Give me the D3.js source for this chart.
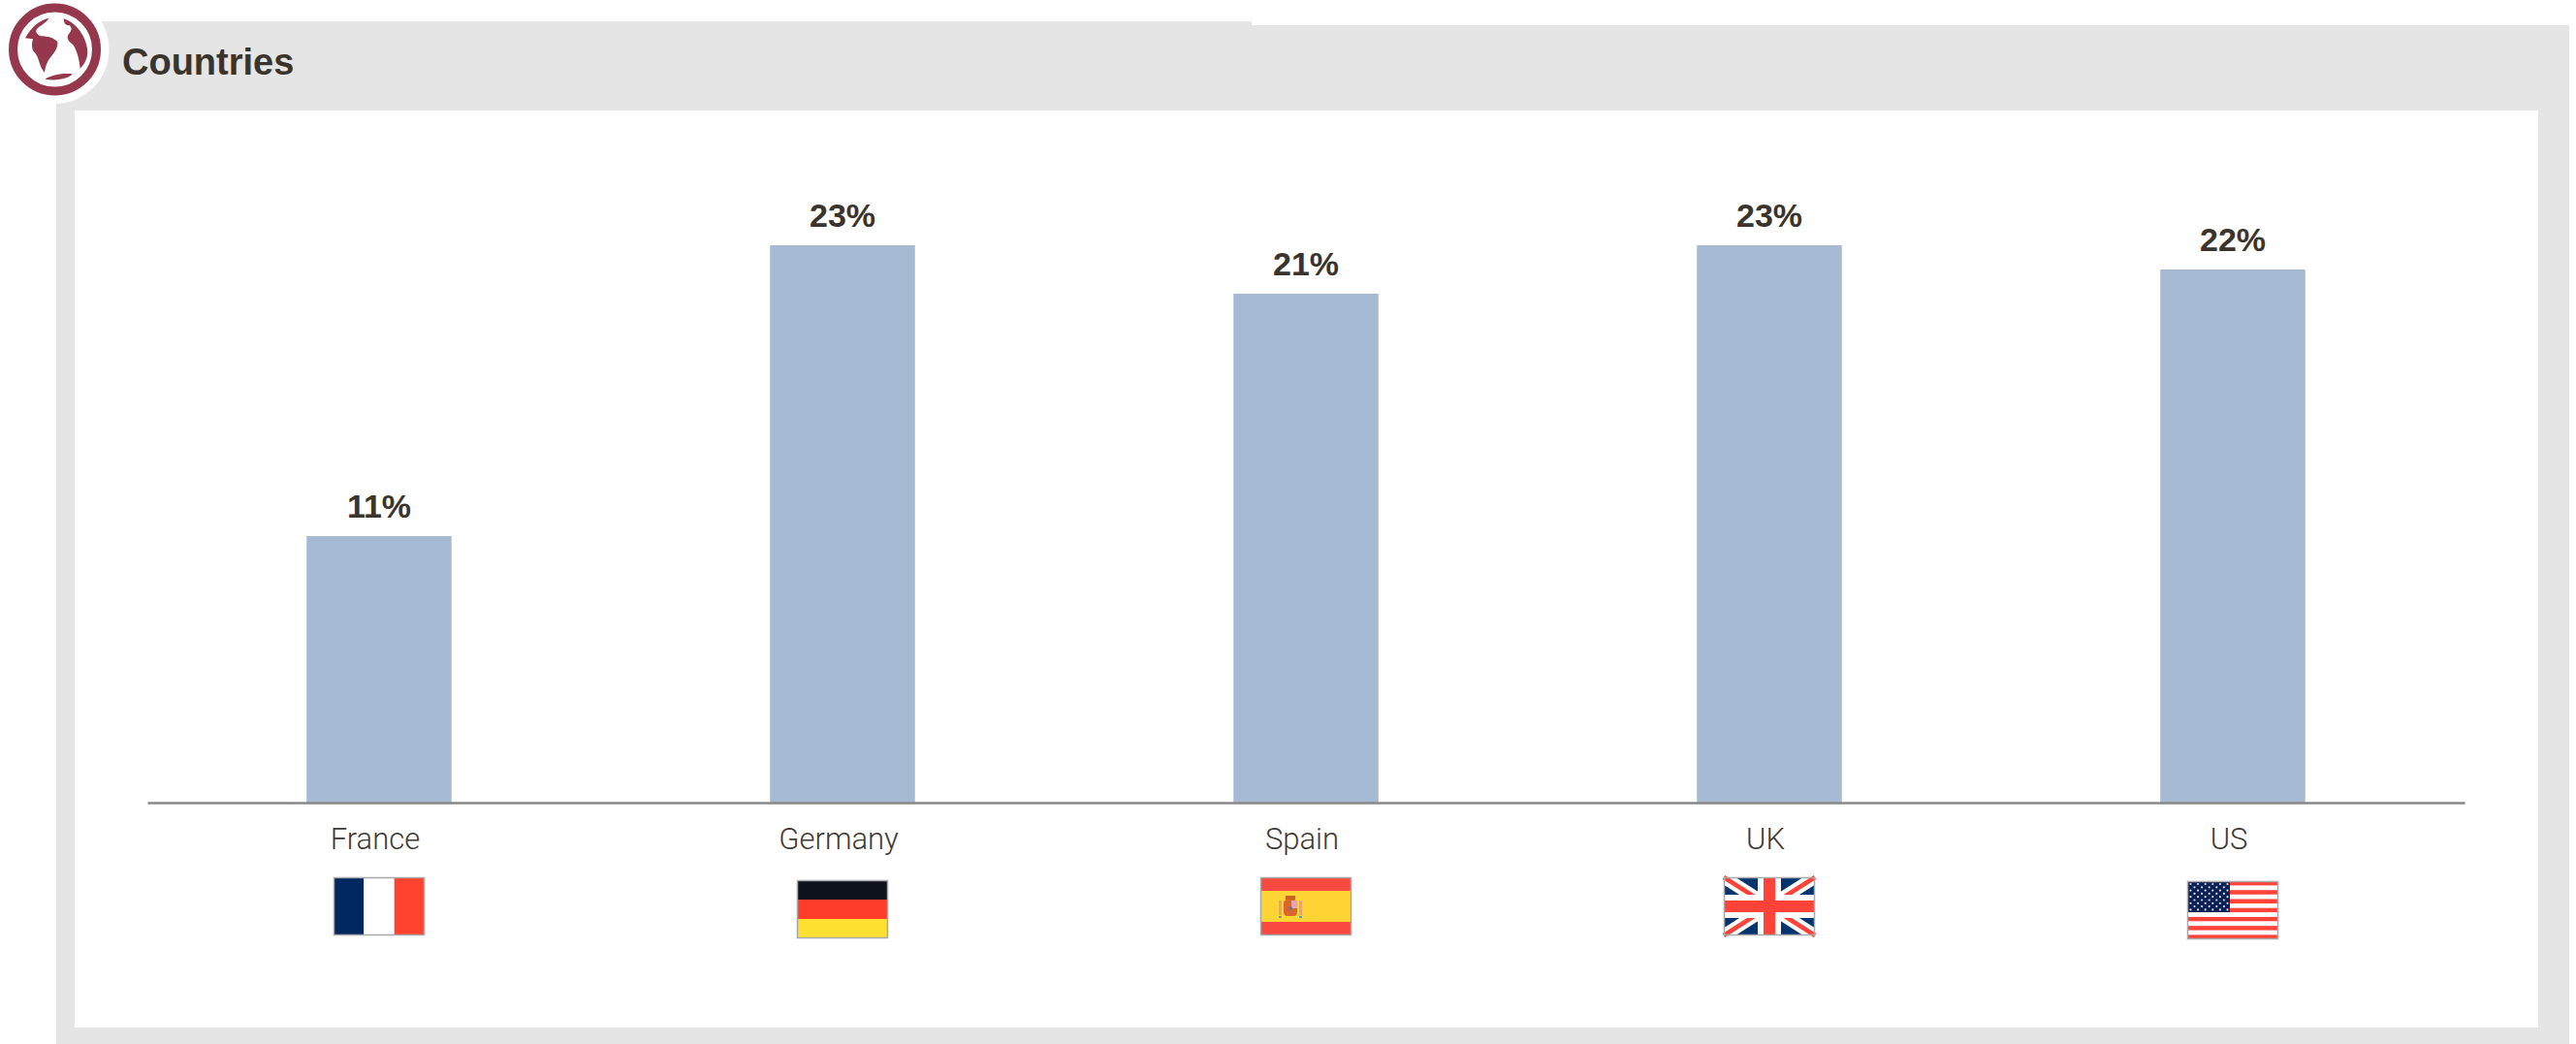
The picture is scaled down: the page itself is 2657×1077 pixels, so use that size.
<!DOCTYPE html>
<html>
<head>
<meta charset="utf-8">
<title>Countries</title>
<script src="https://cdn.jsdelivr.net/npm/d3@7/dist/d3.min.js"></script>
<style>
  html, body { margin: 0; padding: 0; background: #fff; }
  svg { display: block; }
  .title { font: bold 38px "Liberation Sans", sans-serif; fill: #3b342c; }
  .value { font: bold 34px "Liberation Sans", sans-serif; fill: #3b342c; text-anchor: middle; }
  .tick text { font: 300 31px Roboto, "Liberation Sans", sans-serif; fill: #3f3a34; }
</style>
</head>
<body>
<svg id="chart" width="2657" height="1077"></svg>
<script>
const countries = ["France", "Germany", "Spain", "UK", "US"];
const shares = [11, 23, 21, 23, 22];
const chartTitle = "Countries";

const svg = d3.select("#chart");
const GREY = "#e5e5e5", WINE = "#95374d", BAR = "#a6bbd3";

// Panel frame: the header strip sits slightly higher on its left half.
svg.append("rect").attr("x", 58).attr("y", 26).attr("width", 2592).attr("height", 1051).attr("fill", GREY);
svg.append("rect").attr("x", 58).attr("y", 22).attr("width", 1233).attr("height", 10).attr("fill", GREY);
svg.append("rect").attr("x", 77).attr("y", 114).attr("width", 2541).attr("height", 946).attr("fill", "#fff");

// Globe badge
const badge = svg.append("g").attr("transform", "translate(56.5,51)");
badge.append("circle").attr("r", 56).attr("fill", "#fff");
badge.append("circle").attr("r", 43).attr("fill", "none").attr("stroke", WINE).attr("stroke-width", 9);
badge.append("path")
  .attr("transform", "translate(-56.5,-51) scale(0.3333)")
  .attr("fill", WINE)
  .attr("d", "M152,56 C122,62 96,84 78,118 L102,121 C98,134 98,146 102,156 C112,166 118,178 122,194 C126,208 132,218 138,224 C140,206 146,190 156,178 C168,164 180,148 178,130 C168,118 150,112 126,112 C114,106 108,98 114,90 C124,78 142,72 152,56 Z " +
             "M197,58 C232,68 264,108 270,150 C274,176 264,196 248,212 C246,190 240,160 226,138 C214,130 204,120 212,106 C222,96 224,86 214,78 C204,80 197,72 197,58 Z " +
             "M140,245 C158,232 196,226 224,229 C216,242 176,252 140,245 Z");

svg.append("text").attr("class", "title").attr("x", 126).attr("y", 76.5).text(chartTitle);

// Scales
const x = d3.scaleBand().domain(countries).range([152, 2542]);
const y = d3.scaleLinear().domain([0, 25]).range([828, 203]);
const barWidth = 149.5;
const center = d => x(d) + x.bandwidth() / 2;

svg.selectAll("rect.bar")
  .data(countries)
  .join("rect")
  .attr("class", "bar")
  .attr("x", d => center(d) - barWidth / 2)
  .attr("width", barWidth)
  .attr("y", (d, i) => y(shares[i]))
  .attr("height", (d, i) => y(0) - y(shares[i]))
  .attr("fill", BAR);

svg.selectAll("text.value")
  .data(countries)
  .join("text")
  .attr("class", "value")
  .attr("x", center)
  .attr("y", (d, i) => y(shares[i]) - 19.5)
  .text((d, i) => shares[i] + "%");

// Category axis
const axis = svg.append("g")
  .attr("transform", `translate(0,${y(0)})`)
  .call(d3.axisBottom(x).tickSize(0).tickPadding(26));
axis.select(".domain").attr("stroke", "#888").attr("stroke-width", 2.5);
axis.selectAll(".tick text").attr("dx", -4);

// Flags, each drawn in a 94x60 box
const flagW = 94, flagH = 60;
const flagTop = { France: 905, Germany: 908, Spain: 905, UK: 905, US: 909 };

function stripes(g, colors, vertical) {
  colors.forEach((c, i) => {
    const n = colors.length;
    g.append("rect")
      .attr("x", vertical ? i * flagW / n : 0)
      .attr("y", vertical ? 0 : i * flagH / n)
      .attr("width", vertical ? flagW / n : flagW)
      .attr("height", vertical ? flagH : flagH / n)
      .attr("fill", c);
  });
}

const painters = {
  France: g => stripes(g, ["#00285e", "#ffffff", "#ff432e"], true),
  Germany: g => stripes(g, ["#0e121c", "#ff3d2a", "#fde030"], false),
  Spain: g => {
    g.append("rect").attr("width", flagW).attr("height", flagH).attr("fill", "#fa4a40");
    g.append("rect").attr("y", 14).attr("width", flagW).attr("height", 32).attr("fill", "#ffd535");
    // Coat of arms
    const arms = g.append("g").attr("transform", "translate(31,30)");
    arms.append("rect").attr("x", -7).attr("y", -7).attr("width", 14).attr("height", 17).attr("rx", 4).attr("fill", "#d9662a");
    arms.append("rect").attr("x", 1).attr("y", -6).attr("width", 6).attr("height", 8).attr("fill", "#e6a3b0");
    arms.append("rect").attr("x", -5).attr("y", -11).attr("width", 10).attr("height", 4).attr("fill", "#c9631f");
    arms.append("rect").attr("x", -12).attr("y", -6).attr("width", 3).attr("height", 15).attr("fill", "#e8a66c");
    arms.append("rect").attr("x", 9).attr("y", -6).attr("width", 3).attr("height", 15).attr("fill", "#e8a66c");
    arms.append("rect").attr("x", -12).attr("y", 10).attr("width", 3).attr("height", 2).attr("fill", "#6fa0a8");
    arms.append("rect").attr("x", 9).attr("y", 10).attr("width", 3).attr("height", 2).attr("fill", "#6fa0a8");
    arms.append("circle").attr("cx", 0).attr("cy", 2).attr("r", 2).attr("fill", "#7a6f80");
  },
  UK: g => {
    g.append("rect").attr("width", flagW).attr("height", flagH).attr("fill", "#04356f");
    const diag = `M0,0 L${flagW},${flagH} M${flagW},0 L0,${flagH}`;
    g.append("path").attr("d", diag).attr("stroke", "#fff").attr("stroke-width", 13);
    g.append("path").attr("d", diag).attr("stroke", "#ff4338").attr("stroke-width", 4.5);
    g.append("rect").attr("x", 35).attr("width", 24).attr("height", flagH).attr("fill", "#fff");
    g.append("rect").attr("y", 18).attr("width", flagW).attr("height", 24).attr("fill", "#fff");
    g.append("rect").attr("x", 41).attr("width", 12).attr("height", flagH).attr("fill", "#ff4338");
    g.append("rect").attr("y", 24).attr("width", flagW).attr("height", 12).attr("fill", "#ff4338");
  },
  US: g => {
    stripes(g, d3.range(13).map(i => i % 2 ? "#ffffff" : "#ff4338"), false);
    g.append("rect").attr("width", 44).attr("height", 32).attr("fill", "#0b2155");
    d3.range(9).forEach(r => d3.range(r % 2 ? 5 : 6).forEach(c => {
      g.append("circle")
        .attr("cx", (r % 2 ? 7.5 : 3.5) + c * 7.6)
        .attr("cy", 3 + r * 3.3)
        .attr("r", 1.1)
        .attr("fill", "#d7dbe6");
    }));
  }
};

const flags = svg.selectAll("g.flag")
  .data(countries)
  .join("g")
  .attr("class", "flag")
  .attr("transform", d => `translate(${center(d) - flagW / 2},${flagTop[d]})`);

flags.each(function (d) {
  const g = d3.select(this);
  painters[d](g);
  g.append("rect")
    .attr("x", 0.5).attr("y", 0.5)
    .attr("width", flagW - 1).attr("height", flagH - 1)
    .attr("fill", "none").attr("stroke", "#a8a8a8").attr("stroke-width", 1.5);
});
</script>
</body>
</html>
